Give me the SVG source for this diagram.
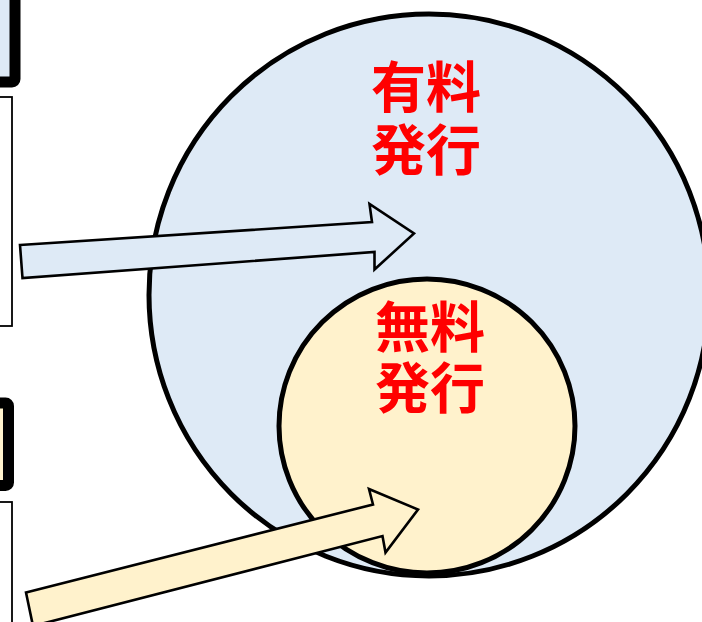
<svg xmlns="http://www.w3.org/2000/svg" width="702" height="622" viewBox="0 0 702 622">
  <style>
    .thick { stroke: #000; stroke-width: 11; }
    .thin { fill: #fff; stroke: #000; stroke-width: 1.8; }
    .ring { stroke: #000; stroke-width: 5; }
    .arrow { stroke: #000; stroke-width: 2.6; stroke-linejoin: miter; }
    .blue { fill: #DEEAF6; }
    .yellow { fill: #FFF2CC; }
    .label { font-family: "Noto Sans CJK JP", "Noto Sans CJK SC", sans-serif; font-weight: bold; font-size: 55px; fill: #FF0000; text-anchor: middle; }
  </style>
  <rect width="702" height="622" fill="#fff"/>

  <g id="box-top-thick">
    <rect class="thick blue" x="-20" y="-20" width="35" height="102" rx="3"/>
  </g>
  <g id="box-top-thin">
    <rect class="thin" x="-10" y="97" width="22" height="229"/>
  </g>
  <g id="box-bottom-thick">
    <rect class="thick yellow" x="-20" y="403" width="28.5" height="82.5" rx="3"/>
  </g>
  <g id="box-bottom-thin">
    <rect class="thin" x="-10" y="502" width="22" height="140"/>
  </g>

  <g id="paid">
    <ellipse class="ring blue" cx="429" cy="295" rx="280" ry="281"/>
    <text class="label"><tspan x="426" y="107">有料</tspan><tspan x="426" y="170">発行</tspan></text>
  </g>

  <g id="free">
    <ellipse class="ring yellow" cx="427" cy="426" rx="148" ry="147"/>
    <text class="label"><tspan x="430" y="347">無料</tspan><tspan x="430" y="408">発行</tspan></text>
  </g>

  <g id="connectors">
    <polygon class="arrow blue" points="20,245 372,222 369.5,204 414,233.5 374.5,269.5 374.5,252 22.5,278"/>
    <polygon class="arrow yellow" points="26,592.5 373,504.5 369,489 418,509.5 385.5,552.5 382.5,536 33,626"/>
  </g>
</svg>
